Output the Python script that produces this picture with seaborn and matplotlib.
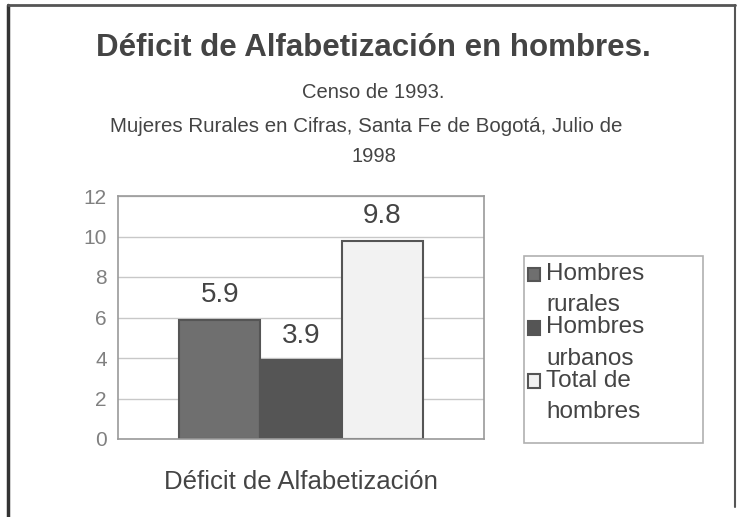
import pandas as pd
import matplotlib.pyplot as plt
import seaborn as sns
from matplotlib.lines import Line2D
from matplotlib.patches import Rectangle
from matplotlib.legend_handler import HandlerPatch

# data
categoria = ['Déficit de Alfabetización']
series = ['Hombres\nrurales', 'Hombres\nurbanos', 'Total de\nhombres']
valores = [5.9, 3.9, 9.8]
colores = ['#6f6f6f', '#555555', '#f2f2f2']

df = pd.DataFrame({
    'categoria': categoria * len(series),
    'serie': series,
    'valor': valores,
})


class TopPatch(HandlerPatch):
    # put the legend square next to the first line of the label
    def create_artists(self, legend, orig_handle, xdescent, ydescent,
                       width, height, fontsize, trans):
        p = Rectangle((-xdescent, -ydescent + 0.62 * fontsize), width, height)
        self.update_prop(p, orig_handle, legend)
        p.set_transform(trans)
        return [p]


sns.set_theme(style='white')
plt.rcParams['font.family'] = ['Liberation Sans', 'DejaVu Sans']

fig = plt.figure(figsize=(7.4, 5.17), dpi=100)
ax = fig.add_axes([118 / 740, 1 - 439 / 517, 366 / 740, 243 / 517])

sns.barplot(
    data=df, x='categoria', y='valor', hue='serie',
    hue_order=series, palette=colores, width=0.664, gap=0,
    edgecolor='#555555', linewidth=1.5, ax=ax, legend=True
)
ax.set_xlim(-0.5, 0.5)
ax.set_ylim(0, 12)
ax.set_yticks(range(0, 13, 2))
ax.yaxis.grid(True, color='#c8c8c8', linewidth=1)
ax.set_axisbelow(True)
for s in ax.spines.values():
    s.set_color('#9a9a9a')
    s.set_linewidth(1.2)
ax.set_xlabel('')
ax.set_ylabel('')
ax.tick_params(axis='y', labelsize=15, labelcolor='#808080', pad=8, length=0)
ax.tick_params(axis='x', labelsize=18.5, labelcolor='#444444', pad=22, length=0)

for c in ax.containers:
    ax.bar_label(c, fmt='%.1f', padding=8, fontsize=20, color='#444444')

handles, labels = ax.get_legend_handles_labels()
leg = ax.legend(
    handles, labels, loc='upper left',
    bbox_to_anchor=(528 / 740, 1 - 263 / 517), bbox_transform=fig.transFigure,
    frameon=False, fontsize=17.5,
    handlelength=0.5, handleheight=0.5, handletextpad=0.25,
    labelspacing=0.0, borderpad=0, borderaxespad=0, labelcolor='#444444',
    handler_map={Rectangle: TopPatch()}
)
for t in leg.get_texts():
    t.set_linespacing(1.55)

# legend box
fig.add_artist(Rectangle((524 / 740, 1 - 443 / 517), 179 / 740, 187 / 517,
                         transform=fig.transFigure, fill=False,
                         edgecolor='#b0b0b0', linewidth=1.2))

fig.text(0.505, 1 - 48 / 517, 'Déficit de Alfabetización en hombres.',
         ha='center', va='center', fontsize=22.5, fontweight='bold', color='#444444')
fig.text(0.505, 1 - 93 / 517, 'Censo de 1993.', ha='center', va='center',
         fontsize=14.5, color='#444444')
fig.text(0.495, 1 - 126 / 517, 'Mujeres Rurales en Cifras, Santa Fe de Bogotá, Julio de',
         ha='center', va='center', fontsize=14.8, color='#444444')
fig.text(0.505, 1 - 157 / 517, '1998', ha='center', va='center',
         fontsize=14.5, color='#444444')

# outer frame
fig.add_artist(Line2D([8 / 740, 8 / 740], [0, 1 - 5 / 517], color='#333333', linewidth=2.5))
fig.add_artist(Line2D([8 / 740, 735 / 740], [1 - 5 / 517, 1 - 5 / 517], color='#555555', linewidth=2))
fig.add_artist(Line2D([735 / 740, 735 / 740], [0.02, 1 - 5 / 517], color='#555555', linewidth=1.5))

fig.savefig('out.png', dpi=100)
